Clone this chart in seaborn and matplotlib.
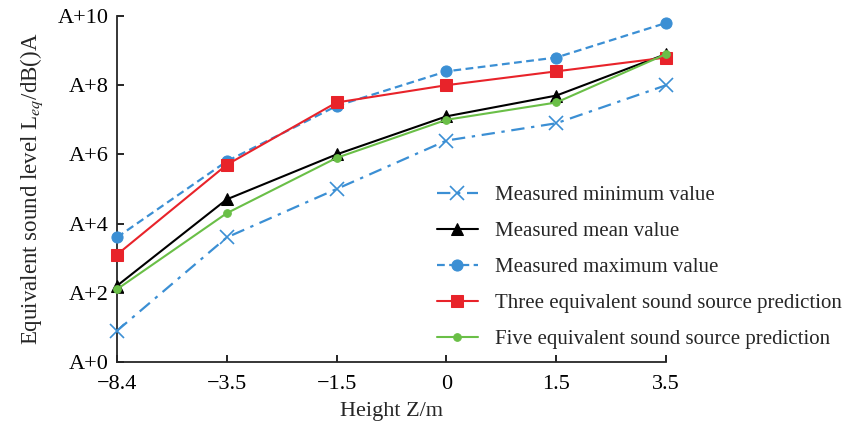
import numpy as np
import pandas as pd
import seaborn as sns
from matplotlib import pyplot as plt

# Heights (categorical, equally spaced on the axis)
heights = ["\u22128.4", "\u22123.5", "\u22121.5", "0", "1.5", "3.5"]

# Values (offset above A)
measured_min = [0.9, 3.6, 5.0, 6.4, 6.9, 8.0]
measured_mean = [2.2, 4.7, 6.0, 7.1, 7.7, 8.9]
measured_max = [3.6, 5.8, 7.4, 8.4, 8.8, 9.8]
three_src = [3.1, 5.7, 7.5, 8.0, 8.4, 8.8]
five_src = [2.1, 4.3, 5.9, 7.0, 7.5, 8.9]

y_ticks = [0, 2, 4, 6, 8, 10]
y_labels = ["A+0", "A+2", "A+4", "A+6", "A+8", "A+10"]

sns.set_style("ticks")
plt.rcParams['font.family'] = ['Liberation Serif', 'DejaVu Serif']
plt.rcParams['mathtext.fontset'] = 'stix'

fig, ax = plt.subplots(figsize=(8.53, 4.32), dpi=100)
fig.subplots_adjust(left=0.137, right=0.781, top=0.963, bottom=0.162)

pos = np.arange(len(heights))
blue = "#3b8fd4"

series = [
    ("Measured minimum value", measured_min, dict(color=blue, linestyle=(0, (6, 3, 1.5, 3)), marker="x", markersize=10, markeredgewidth=1.2, linewidth=1.6)),
    ("Measured mean value", measured_mean, dict(color="black", linestyle="-", marker="^", markersize=9, linewidth=1.5)),
    ("Measured maximum value", measured_max, dict(color=blue, linestyle=(0, (3.5, 2)), marker="o", markersize=8, linewidth=1.6)),
    ("Three equivalent sound source prediction", three_src, dict(color="#e8232a", linestyle="-", marker="s", markersize=8, linewidth=1.5)),
    ("Five equivalent sound source prediction", five_src, dict(color="#6abf47", linestyle="-", marker="o", markersize=5.5, linewidth=1.5)),
]

for name, vals, style in series:
    sns.lineplot(x=pos, y=vals, ax=ax, label=name, markeredgecolor=style["color"],
                 clip_on=False, zorder=3, **style)

ax.set_xlim(0, len(heights) - 1)
ax.set_ylim(0, 10)
ax.set_xticks(pos)
ax.set_xticklabels(heights)
ax.set_yticks(y_ticks)
ax.set_yticklabels(y_labels)
ax.tick_params(direction="in", length=5, width=1.2, labelsize=16, colors="black", pad=6)
ax.tick_params(axis="x", pad=9)
for s in ["left", "bottom"]:
    ax.spines[s].set_linewidth(1.3)
sns.despine(ax=ax)

ax.set_xlabel("Height Z/m", fontsize=16, labelpad=6)
ax.set_ylabel("Equivalent sound level L$_{eq}$/dB()A", fontsize=16.5, labelpad=9)

ax.legend(loc="upper left", bbox_to_anchor=(0.567, 0.535), frameon=False,
          fontsize=15, handlelength=2.0, handletextpad=0.8, labelspacing=0.79, borderaxespad=0)
leg = ax.get_legend()
leg.set_clip_on(False)

fig.savefig("out.png", dpi=100)
